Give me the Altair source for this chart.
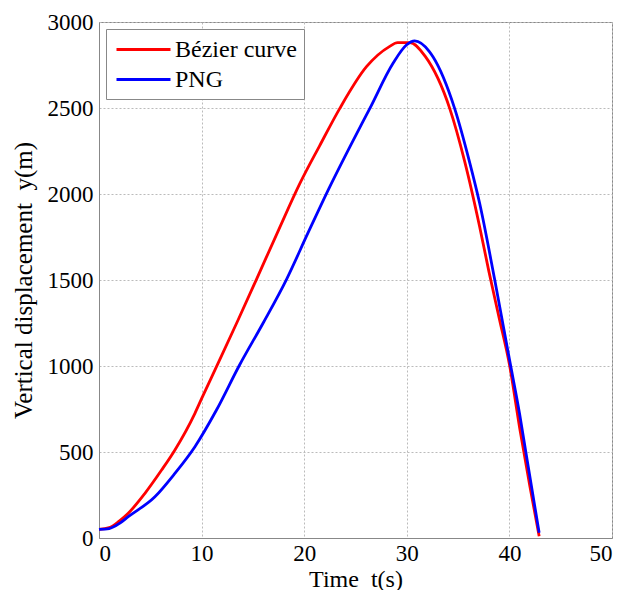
import altair as alt
import pandas as pd

# Bézier curve (red)
bez_t = [0, 1, 2, 2.85, 4.48, 6.1, 7.4, 9.35, 10, 11.6, 13.5, 15.35, 17.5, 19.57, 21.5, 23.47,
         26.07, 28.3, 29.1, 30.3, 31.8, 34.18, 35.64, 37.1, 38, 39, 40, 41, 42, 42.9]
bez_y = [50, 60, 100, 144, 260, 395, 512, 725, 810, 1015, 1260, 1504, 1790, 2060, 2280, 2498,
         2740, 2857, 2880, 2880, 2800, 2498, 2190, 1810, 1550, 1280, 1010, 640, 300, 10]

# PNG (blue)
png_t = [0, 1, 2, 2.85, 5.45, 7.4, 9.35, 11.45, 13.7, 16, 18.28, 20.38, 22.5, 24.5, 26.4,
         28.66, 29.96, 30.77, 32.2, 32.55, 34.66, 36.1, 37.1, 38.56, 40, 41, 41.6, 42.9]
png_y = [50, 55, 85, 124, 240, 376, 531, 744, 1006, 1250, 1504, 1775, 2043, 2280, 2498,
         2760, 2866, 2890, 2828, 2798, 2498, 2190, 1946, 1504, 1040, 720, 500, 30]

series_names = ["Bézier curve", "PNG"]
series_colors = ["#ff0000", "#0000ff"]

x_ticks = [0, 10, 20, 30, 40, 50]
y_ticks = [0, 500, 1000, 1500, 2000, 2500, 3000]

df = pd.concat([
    pd.DataFrame({"t": bez_t, "y": bez_y, "series": series_names[0], "order": range(len(bez_t))}),
    pd.DataFrame({"t": png_t, "y": png_y, "series": series_names[1], "order": range(len(png_t))}),
])

font = "Liberation Serif"

chart = alt.Chart(df).mark_line(strokeWidth=2.8, interpolate="monotone").encode(
    x=alt.X("t:Q", scale=alt.Scale(domain=[0, 50], nice=False),
            axis=alt.Axis(title="Time\u00a0 t(s)", values=x_ticks, format="d",
                          labelPadding=4, titlePadding=2)),
    y=alt.Y("y:Q", scale=alt.Scale(domain=[0, 3000], nice=False),
            axis=alt.Axis(title="Vertical displacement\u00a0 y(m)", values=y_ticks, format="d",
                          labelPadding=6, titlePadding=11, titleFontSize=25)),
    color=alt.Color("series:N",
                    scale=alt.Scale(domain=series_names, range=series_colors),
                    legend=alt.Legend(title=None, orient="none", legendX=7, legendY=7,
                                      symbolType="M-2.25,0H2.25", symbolSize=576, symbolStrokeWidth=3,
                                      symbolOffset=17,
                                      labelFont=font, labelFontSize=24, labelColor="black",
                                      labelOffset=18, rowPadding=4, padding=7,
                                      strokeColor="#888888", fillColor="white",
                                      labelLimit=300)),
    order="order:Q",
).properties(
    width=513, height=516,
    autosize=alt.AutoSizeParams(type="none"),
    padding={"left": 91, "top": 14, "right": 8, "bottom": 52},
).configure_view(
    stroke="#888888", strokeWidth=1
).configure_axis(
    labelFont=font, labelFontSize=23, labelColor="black",
    titleFont=font, titleFontSize=24, titleColor="black", titleFontWeight="normal",
    domainColor="#888888", ticks=False,
    grid=True, gridColor="#bbbbbb", gridDash=[2, 2], gridWidth=1,
)

chart.save("out.html", embed_options={"renderer": "svg", "actions": False})
